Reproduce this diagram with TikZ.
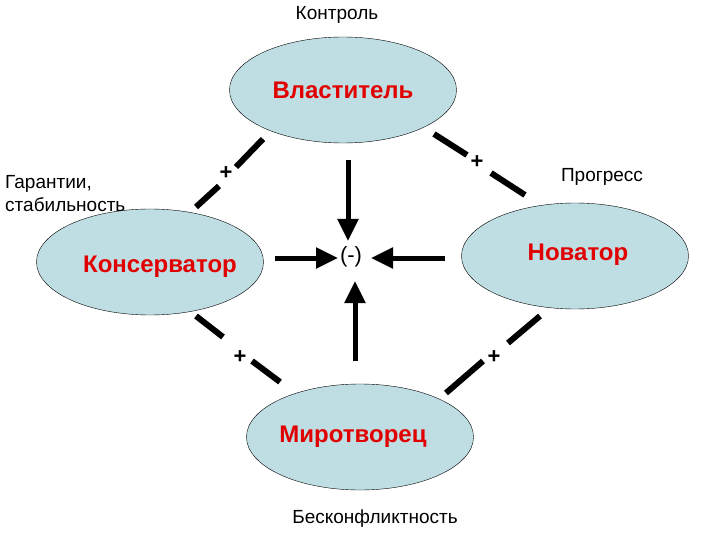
\documentclass[tikz,border=0pt]{standalone}
\usepackage{fontspec}
\setmainfont{Liberation Sans}
\usetikzlibrary{shapes.geometric,arrows.meta}

\definecolor{ellfill}{RGB}{190,222,228}
\definecolor{namered}{RGB}{225,0,0}

\tikzset{
  role/.style={ellipse, draw=black, thin, fill=ellfill,
    minimum width=227pt, minimum height=106pt, inner sep=0pt},
  rolename/.style={text=namered, font=\fontsize{24}{28}\selectfont\bfseries},
  note/.style={font=\fontsize{19}{23}\selectfont, inner sep=0pt},
  link/.style={line width=6pt},
  plus/.style={font=\fontsize{22}{24}\selectfont\bfseries, inner sep=0pt},
  push/.style={line width=5pt, -{Triangle[width=20pt,length=22pt]}}
}

\begin{document}
\begin{tikzpicture}[x=1pt,y=-1pt]
\useasboundingbox (0,0) rectangle (720,540);

%% roles
\node[role] (vlast) at (343,90)  {};
\node[role] (kons)  at (150,262) {};
\node[role] (novat) at (575,256) {};
\node[role] (mirot) at (360,437) {};

\node[rolename] (vlast-t) at (343,90)  {Властитель};
\node[rolename] (kons-t)  at (160,267) {Консерватор};
\node[rolename] (novat-t) at (578,255) {Новатор};
\node[rolename] (mirot-t) at (353,437) {Миротворец};

%% outer labels
\node[note] (kontrol) at (337,15) {Контроль};
\node[note] (progr)   at (602,177) {Прогресс};
\node[note, align=left, anchor=west] (garant) at (5,194)
  {Гарантии,\\стабильность};
\node[note] (beskonf) at (375,519) {Бесконфликтность};

%% dashed links with plus signs
\node[plus] (p1) at (226,173) {+};
\coordinate (a1) at (263,139);  \coordinate (b1) at (236,167);
\coordinate (c1) at (219,186);  \coordinate (d1) at (196,207);
\draw[link] (a1) -- (b1);
\draw[link] (c1) -- (d1);

\node[plus] (p2) at (477,162) {+};
\coordinate (a2) at (434,134);  \coordinate (b2) at (467,155);
\coordinate (c2) at (491,173);  \coordinate (d2) at (525,195);
\draw[link] (a2) -- (b2);
\draw[link] (c2) -- (d2);

\node[plus] (p3) at (240,357) {+};
\coordinate (a3) at (196,316);  \coordinate (b3) at (223,337);
\coordinate (c3) at (252,361);  \coordinate (d3) at (280,382);
\draw[link] (a3) -- (b3);
\draw[link] (c3) -- (d3);

\node[plus] (p4) at (494,357) {+};
\coordinate (a4) at (540,316);  \coordinate (b4) at (508,343);
\coordinate (c4) at (483,361);  \coordinate (d4) at (446,393);
\draw[link] (a4) -- (b4);
\draw[link] (c4) -- (d4);

%% conflict centre
\node[font=\fontsize{22}{24}\selectfont, inner sep=0pt] (minus) at (351,257) {(-)};
\coordinate (top-s) at (348,160);  \coordinate (top-e) at (348,241);
\coordinate (lft-s) at (275,258);  \coordinate (lft-e) at (338,258);
\coordinate (rgt-s) at (445,258);  \coordinate (rgt-e) at (371,258);
\coordinate (bot-s) at (355,361);  \coordinate (bot-e) at (355,281);
\draw[push] (top-s) -- (top-e);
\draw[push] (lft-s) -- (lft-e);
\draw[push] (rgt-s) -- (rgt-e);
\draw[push] (bot-s) -- (bot-e);

\end{tikzpicture}
\end{document}
